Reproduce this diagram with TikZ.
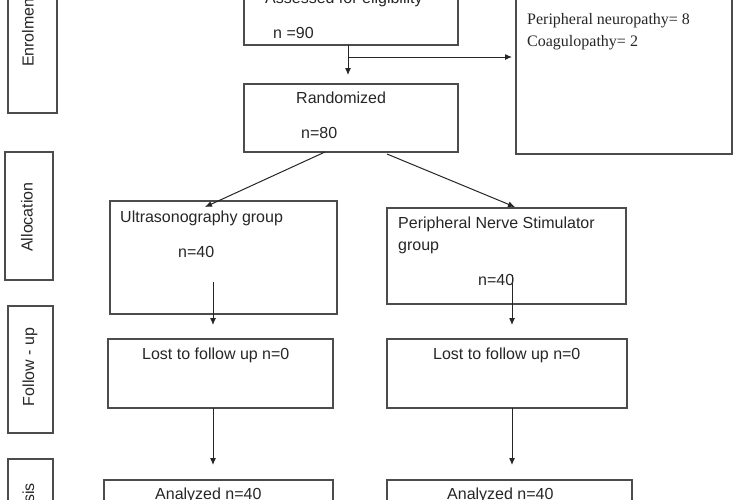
\documentclass[tikz,border=0pt]{standalone}
\usepackage{fontspec}
\setmainfont{Liberation Sans}
\newfontfamily\timesfont{Liberation Serif}
\usetikzlibrary{arrows.meta}
\begin{document}
\begin{tikzpicture}[x=1pt,y=-1pt,
        box/.style={draw=black!70,line width=1.1pt,inner sep=0pt,outer sep=0pt},
        txt/.style={anchor=base west,inner sep=0pt,text=black!85,font=\fontsize{16}{22}\selectfont},
        phase/.style={rotate=90,inner sep=0pt,text=black!85,font=\fontsize{16}{22}\selectfont},
        arr/.style={->,draw=black!85,line width=1pt},
        >={Latex[length=7pt,width=6pt]}]
            \useasboundingbox (0,0) rectangle (750,499);
            \clip (0,0) rectangle (750,499);

            \node[box,minimum width=49pt,minimum height=133pt] (enrol) at (32.5,46.5) {};
            \node[box,minimum width=48pt,minimum height=128pt] (alloc) at (29,216) {};
            \node[box,minimum width=45pt,minimum height=127pt] (follow) at (30.5,369.5) {};
            \node[box,minimum width=45pt,minimum height=101pt] (analysis) at (30.5,509.5) {};

            \node[phase] (enroltxt) at (28,30.5) {Enrolment};
            \node[phase] (alloctxt) at (27,217) {Allocation};
            \node[phase] (followtxt) at (30,367) {Follow - up};
            \node[phase] (analysistxt) at (30,513) {Analysis};

            \node[box,minimum width=214pt,minimum height=85pt] (assess) at (351,2.5) {};
            \node[box,minimum width=216pt,minimum height=214pt] (excl) at (624,47) {};
            \node[box,minimum width=214pt,minimum height=68pt] (rand) at (351,118) {};
            \node[box,minimum width=227pt,minimum height=113pt] (usg) at (223.5,257.5) {};
            \node[box,minimum width=239pt,minimum height=96pt] (pns) at (506.5,256) {};
            \node[box,minimum width=225pt,minimum height=69pt] (lostusg) at (220.5,373.5) {};
            \node[box,minimum width=240pt,minimum height=69pt] (lostpns) at (507,373.5) {};
            \node[box,minimum width=229pt,minimum height=60pt] (anausg) at (218.5,510) {};
            \node[box,minimum width=245pt,minimum height=60pt] (anapns) at (509.5,510) {};

            \node[txt] (assesstxt) at (265,3) {Assessed for eligibility};
            \node[txt] (assessn) at (273,38) {n =90};
            \node[txt,anchor=north west,align=left,font=\timesfont\fontsize{16}{22}\selectfont] (excltxt) at (527,13) {Peripheral neuropathy= 8\\Coagulopathy= 2};
            \node[txt] (randtxt) at (296,103) {Randomized};
            \node[txt] (randn) at (301,138) {n=80};
            \node[txt] (usgtxt) at (120,222) {Ultrasonography group};
            \node[txt] (usgn) at (178,257) {n=40};
            \node[txt,anchor=north west,align=left] (pnstxt) at (398,216.3) {Peripheral Nerve Stimulator\\group};
            \node[txt] (pnsn) at (478,285) {n=40};
            \node[txt] (lostusgtxt) at (142,359) {Lost to follow up n=0};
            \node[txt] (lostpnstxt) at (433,359) {Lost to follow up n=0};
            \node[txt] (anausgtxt) at (155,499.5) {Analyzed n=40};
            \node[txt] (anapnstxt) at (447,499.5) {Analyzed n=40};

            \coordinate (split) at (assess.south |- 0,57);
            \draw[arr,shorten >=9pt] ([xshift=-3pt]assess.south) -- ([xshift=-3pt]rand.north);
            \draw[arr,shorten >=4pt] ([xshift=-3pt]split) -- (split -| excl.west);
            \draw[arr] ([xshift=-26pt]rand.south) -- ([xshift=-18.5pt,yshift=-6pt]usg.north);
            \draw[arr] ([xshift=36pt,yshift=-2pt]rand.south) -- ([xshift=8.5pt,yshift=1pt]pns.north);
            \draw[arr] ([xshift=-10.5pt,yshift=32pt]usg.south) -- ([xshift=-7.5pt,yshift=14pt]lostusg.north);
            \draw[arr] ([xshift=5.5pt,yshift=29pt]pns.south) -- ([xshift=5pt,yshift=14pt]lostpns.north);
            \draw[arr] ([xshift=-7.5pt]lostusg.south) -- ([xshift=-5.5pt,yshift=15pt]anausg.north);
            \draw[arr] ([xshift=5pt]lostpns.south) -- ([xshift=2.5pt,yshift=15pt]anapns.north);
        \end{tikzpicture}
\end{document}
